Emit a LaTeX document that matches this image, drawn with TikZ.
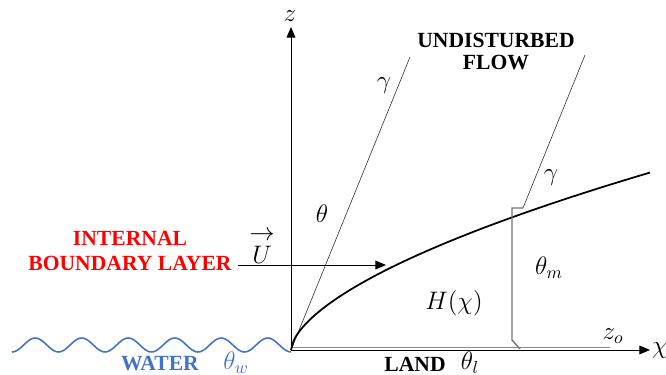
\documentclass[tikz,border=0pt]{standalone}
\usepackage{amsmath}
\usepackage{fontspec}
\setmainfont{Liberation Serif}
\usetikzlibrary{arrows.meta,positioning}
\definecolor{seablue}{RGB}{68,114,196}

\begin{document}
\begin{tikzpicture}
    [x=0.02cm, y=-0.02cm,
    axis/.style={-{Triangle[length=6pt,width=5pt]}, line width=0.5pt},
    ray/.style={line width=0.35pt, black!80},
    word/.style={font=\fontsize{12.3}{13}\selectfont\bfseries, inner sep=1pt},
    lbl/.style={font=\fontsize{14}{16}\selectfont, inner sep=1pt}]
    \useasboundingbox (0,0) rectangle (666,375);
        %% axes
    \coordinate (O) at (291,350);
    \coordinate (Ztop) at (291,27);
    \coordinate (Xend) at (650,350);
    \node[lbl] (z) at (290,16) {$z$};
    \node[lbl] (chi) at (660,351) {$\chi$};
    \draw[axis] (O) -- (Ztop);
    \draw[axis] (O) -- (Xend);
    \draw[line width=0.5pt, black!45] (291,347.5) -- (610,347.5);
    \node[lbl] (zo) at (613,336) {$z_o$};

        %% water
    \draw[line width=0.9pt, seablue] plot[domain=0:6, samples=150, smooth]
        ({12+46.5*\x}, {345+7*cos(360*\x)});
    \node[word, text=seablue] (water) at (160,364) {WATER};
    \node[lbl, text=seablue] (thw) at (236,363) {$\theta_w$};
    \node[word] (land) at (415,364) {LAND};
    \node[lbl] (thl) at (470,363) {$\theta_l$};

        %% gamma rays
    \coordinate (G1) at (410,57);
    \coordinate (G2top) at (585,55);
    \coordinate (P) at (523,208);
    \draw[ray] (O) -- (G1);
    \draw[ray] (P) -- (G2top);
    \node[lbl] (g1) at (384,86) {$\gamma$};
    \node[lbl] (g2) at (551,178) {$\gamma$};
    \node[lbl] (th) at (322,214) {$\theta$};

        %% boundary layer height
    \draw[line width=1pt] plot[domain=0:359, samples=120, smooth]
        ({291+\x}, {350-5.2*pow(\x,0.6)});
    \node[lbl] (H) at (454,303) {$H(\chi)$};
    \draw[line width=0.8pt, black!55] (P) -- (512,208) -- (512,340) -- (520,349);
    \node[lbl] (thm) at (549,268) {$\theta_m$};

        %% flow
    \node[word] (und) at (496,40) {UNDISTURBED};
    \node[word] (flow) at (496,63) {FLOW};
    \node[word, text=red] (ibl1) at (130,238) {INTERNAL};
    \node[word, text=red] (ibl2) at (130,263) {BOUNDARY LAYER};
    \coordinate (Ustart) at (238,265);
    \coordinate (Uend) at (386,265);
    \draw[axis] (Ustart) -- (Uend);
    \node[lbl, inner sep=0pt] (U) at (262,246) {$\overset{\displaystyle\rightarrow}{U}$};
\end{tikzpicture}
\end{document}
